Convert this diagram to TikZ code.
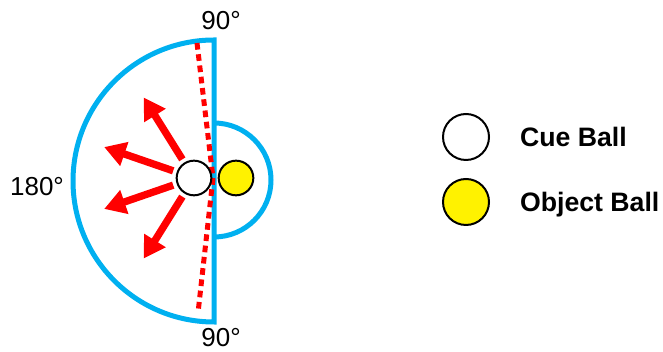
\documentclass[tikz,border=0pt]{standalone}
\usepackage{fontspec}
\setmainfont{Liberation Sans}
\usetikzlibrary{positioning, arrows.meta}
\definecolor{rimblue}{RGB}{0,176,240}

\begin{document}
\begin{tikzpicture}[x=0.75pt, y=0.75pt,
    rim/.style={rimblue, line width=3.75pt},
    ball/.style={circle, draw=black, line width=1.5pt, inner sep=0pt, minimum size=#1},
    shot/.style={red, line width=5.5pt, -{Triangle[width=18pt, length=16pt]}},
    angletext/.style={font=\fontsize{19.5}{23}\selectfont, inner sep=0pt},
    legtext/.style={font=\fontsize{20}{24}\selectfont\bfseries, text depth=0pt}]
    \useasboundingbox (0,0) rectangle (663,352);

    % Half circles
    \draw[rim] (214,312) arc[start angle=90, end angle=270, radius=141] -- cycle;
    \draw[rim] (214,229) arc[start angle=90, end angle=-90, radius=57];

    % Contact line
    \coordinate (ctop) at (197,309);
    \coordinate (contact) at (213,174);
    \coordinate (cbot) at (198,39);
    \draw[red, line width=3.75pt, dash pattern=on 5pt off 3.5pt] (ctop) -- (contact) -- (cbot);

    % Balls
    \node[ball=26pt, fill=white] (cue) at (194,174) {};
    \node[ball=26pt, fill=yellow] (obj) at (236,174) {};

    % Possible cue ball paths
    \foreach \a in {122,161,199,238}
        \draw[shot] ([shift={(\a:22)}]cue.center) -- ([shift={(\a:95)}]cue.center);

    % Angles
    \node[angletext] (top90) at (221,331) {90°};
    \node[angletext] (bot90) at (221,14) {90°};
    \node[angletext] (deg180) at (37,165) {180°};

    % Legend
    \node[ball=34.5pt, fill=white] (legcue) at (466,215) {};
    \node[legtext, right=19pt of legcue] (legcuetext) {Cue Ball};
    \node[ball=34.5pt, fill=yellow] (legobj) at (466,150) {};
    \node[legtext, right=19pt of legobj] (legobjtext) {Object Ball};
\end{tikzpicture}
\end{document}
